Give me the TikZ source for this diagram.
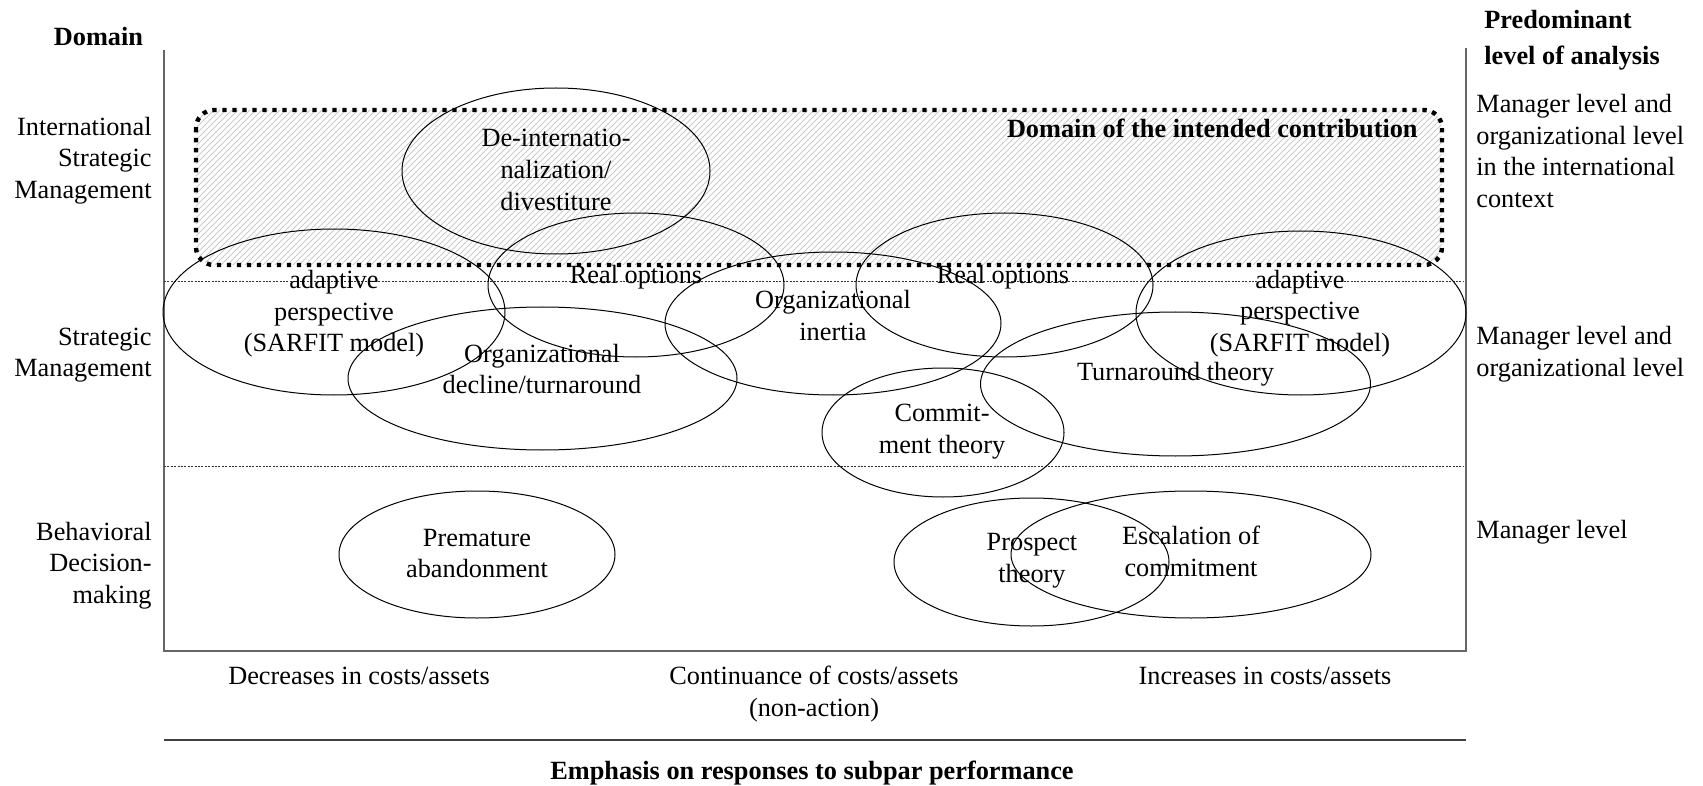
\documentclass[tikz,border=0pt]{standalone}
\usepackage{fontspec}
\setmainfont{Liberation Serif}
\usetikzlibrary{shapes.geometric,patterns}

\begin{document}
\begin{tikzpicture}[x=0.5pt,y=-0.5pt,
  every node/.style={font=\fontsize{13.15}{15.8}\selectfont},
  theory/.style={draw, ellipse, line width=0.5pt, inner sep=0pt, outer sep=0pt},
  txt/.style={align=center, inner sep=0pt},
  lefthead/.style={align=right, anchor=east, inner sep=0pt},
  righthead/.style={align=left, anchor=west, inner sep=0pt},
  heading/.style={inner sep=0pt, font=\fontsize{13.15}{18}\selectfont\bfseries},
  framerule/.style={draw=black!60, line width=0.6pt},
  bandrule/.style={draw=black!80, line width=0.4pt, dash pattern=on 1pt off 0.7pt},
  contribfill/.style={pattern=north east lines, pattern color=black!20, rounded corners=9pt},
  contribedge/.style={draw=black, line width=2.2pt, dash pattern=on 2.2pt off 2.8pt, rounded corners=9pt}
]
\useasboundingbox (0,0) rectangle (1703,786);

% frame corners and band boundaries
\coordinate (tl) at (164,50);
\coordinate (tr) at (1466,48);
\coordinate (bl) at (164,651);
\coordinate (br) at (1466,651);
\coordinate (b1l) at (164,281.5);
\coordinate (b1r) at (1464,281.5);
\coordinate (b2l) at (164,466);
\coordinate (b2r) at (1464,466);
\coordinate (sl) at (164,740);
\coordinate (sr) at (1466,740);
\coordinate (cA) at (196,110);
\coordinate (cB) at (1442,265);

% hatched area of the intended contribution
\fill[contribfill] (cA) rectangle (cB);

% frame
\draw[framerule] (tl) -- (bl) -- (br) -- (tr);
\draw[bandrule] (b1l) -- (b1r);
\draw[bandrule] (b2l) -- (b2r);
\draw[draw=black!75, line width=0.6pt] (sl) -- (sr);

% theory ellipses
\node[theory, minimum width=154pt, minimum height=83pt] (deint) at (556,171) {};
\node[theory, minimum width=171pt, minimum height=83pt] (adaptL) at (334,312) {};
\node[theory, minimum width=148pt, minimum height=72pt] (realL) at (636,285) {};
\node[theory, minimum width=194.5pt, minimum height=71.5pt] (decline) at (542.5,378.5) {};
\node[theory, minimum width=168pt, minimum height=71.5pt] (inertia) at (833,323.5) {};
\node[theory, minimum width=148.5pt, minimum height=72pt] (realR) at (1004.5,285) {};
\node[theory, minimum width=165pt, minimum height=82pt] (adaptR) at (1301,313) {};
\node[theory, minimum width=195pt, minimum height=72pt] (turn) at (1175.5,384) {};
\node[theory, minimum width=121pt, minimum height=64.5pt] (commit) at (943,432.5) {};
\node[theory, minimum width=137.5pt, minimum height=64pt] (prospect) at (1031.5,562) {};
\node[theory, minimum width=180pt, minimum height=63.5pt] (escal) at (1191,554.5) {};
\node[theory, minimum width=138pt, minimum height=63.5pt] (premat) at (477,554.5) {};

% dotted border of the intended contribution
\draw[contribedge] (cA) rectangle (cB);

% theory labels
\node[txt] (tdeint) at (556,170) {De-internatio-\\nalization/\\divestiture};
\node[txt] (tadaptL) at (334,314) {adaptive\\perspective\\(SARFIT model)};
\node[txt] (trealL) at (636,277) {Real options};
\node[txt] (tdecline) at (542,369) {Organizational\\decline/turnaround};
\node[txt] (tinertia) at (833,315.5) {Organizational\\inertia};
\node[txt] (trealR) at (1003,277) {Real options};
\node[txt] (tadaptR) at (1300,313.5) {adaptive\\perspective\\(SARFIT model)};
\node[txt] (tturn) at (1175.5,374) {Turnaround theory};
\node[txt] (tcommit) at (942,431.5) {Commit-\\ment theory};
\node[txt] (tprospect) at (1032,561) {Prospect\\theory};
\node[txt] (tescal) at (1191,551.5) {Escalation of\\commitment};
\node[txt] (tpremat) at (477,553.5) {Premature\\abandonment};

\node[heading, anchor=east] (contrib) at (1418,128) {Domain of the intended contribution};

% domain axis
\node[heading] (domain) at (98.5,37) {Domain};
\node[lefthead] (ism) at (152,160.5) {International\\Strategic\\Management};
\node[lefthead] (sm) at (152,355) {Strategic\\Management};
\node[lefthead] (bdm) at (152,565.5) {Behavioral\\Decision-\\making};

% level of analysis
\node[heading, align=left, anchor=west] (level) at (1484,40) {Predominant\\level of analysis};
\node[righthead] (lv1) at (1476,151) {Manager level and\\organizational level\\in the international\\context};
\node[righthead] (lv2) at (1476,354) {Manager level and\\organizational level};
\node[righthead] (lv3) at (1476,532) {Manager level};

% response axis
\node[txt] (dec) at (359,676) {Decreases in costs/assets};
\node[txt] (cont) at (814,694) {Continuance of costs/assets\\(non-action)};
\node[txt] (inc) at (1265,676) {Increases in costs/assets};
\node[heading] (emph) at (812,773) {Emphasis on responses to subpar performance};
\end{tikzpicture}
\end{document}
